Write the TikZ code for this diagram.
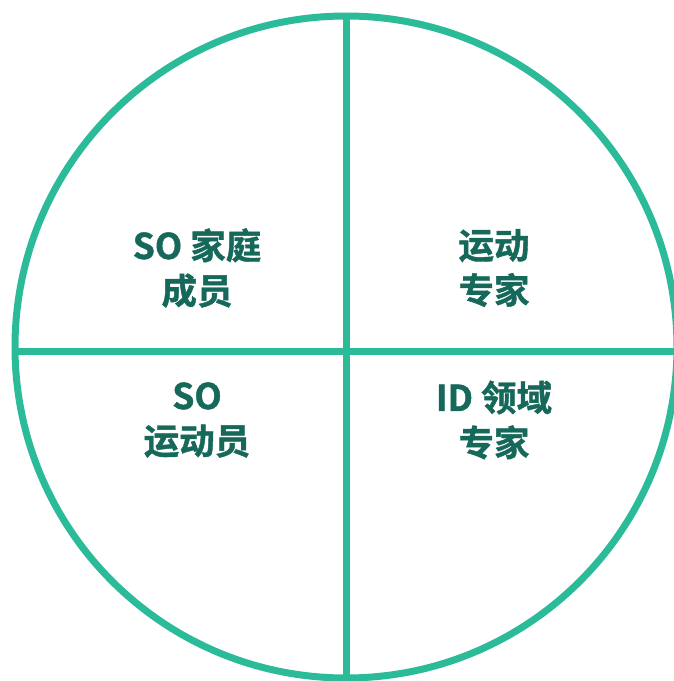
\documentclass[tikz,border=0pt]{standalone}
\usepackage{fontspec}
\newfontfamily\cjk{Noto Sans CJK SC Bold}[FakeBold=1.2]
\definecolor{ring}{HTML}{2BBB98}
\definecolor{txt}{HTML}{16695A}
\begin{document}
\begin{tikzpicture}[x=1pt,y=-1pt,
  lbl/.style={font=\cjk\fontsize{35.5}{45}\selectfont,text=txt,align=center,inner sep=0pt},
  ln/.style={draw=ring,line width=7pt}]
\useasboundingbox (0,0) rectangle (674,681);
\clip (0,0) rectangle (674,681);
\coordinate (c) at (346,347);
\draw[ln] (c) circle[radius=331];
\coordinate (top) at (346.5,18);
\coordinate (bot) at (346.5,677);
\coordinate (lft) at (15,351);
\coordinate (rgt) at (674,351);
\draw[ln] (top) -- (bot);
\draw[ln] (lft) -- (rgt);
\node[lbl] (q1) at (197,268) {SO 家庭\\成员};
\node[lbl] (q2) at (494,268) {运动\\专家};
\node[lbl] (q3) at (197,420) {SO\\运动员};
\node[lbl] (q4) at (494,420) {ID 领域\\专家};
\end{tikzpicture}
\end{document}
